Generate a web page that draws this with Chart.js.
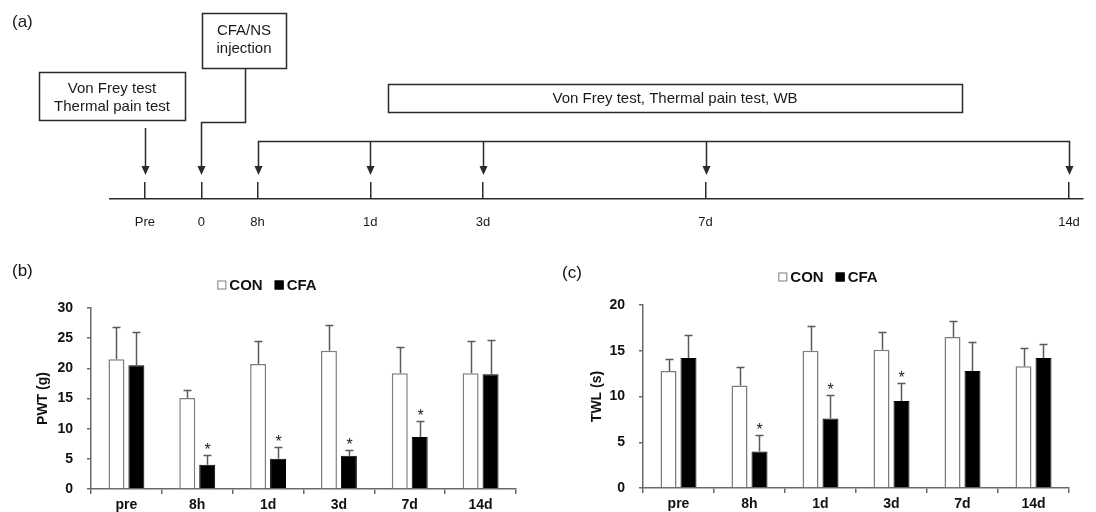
<!DOCTYPE html>
<html><head><meta charset="utf-8">
<script src="https://cdn.jsdelivr.net/npm/chart.js@4.4.1/dist/chart.umd.min.js"></script>
<style>
html,body{margin:0;padding:0;background:#fff;overflow:hidden;}
#wrap{position:relative;width:1096px;height:512px;}
canvas{position:absolute;}
</style></head><body>
<div id="wrap">
<canvas id="ca" width="1096" height="258" style="left:0;top:0"></canvas>
<canvas id="cb" width="548" height="254" style="left:0;top:258px"></canvas>
<canvas id="cc" width="548" height="254" style="left:548px;top:258px"></canvas>
</div>
<script>
// ---------- data ----------
const timelineLabels = ['Pre', '0', '8h', '1d', '3d', '7d', '14d'];
const timelineSlots = [0, 1, 2, 4, 6, 9.95, 16.4];
const categories = ['pre', '8h', '1d', '3d', '7d', '14d'];
const seriesNames = ['CON', 'CFA'];
const pwtCon = [21.5, 15.1, 20.7, 22.9, 19.2, 19.2];
const pwtConSd = [5.4, 1.3, 3.9, 4.3, 4.4, 5.4];
const pwtCfa = [20.5, 4.0, 5.0, 5.5, 8.6, 19.0];
const pwtCfaSd = [5.5, 1.6, 2.0, 0.9, 2.6, 5.7];
const pwtCfaSig = [false, true, true, true, true, false];
const twlCon = [12.8, 11.2, 15.0, 15.1, 16.5, 13.3];
const twlConSd = [1.3, 2.0, 2.7, 2.0, 1.7, 2.0];
const twlCfa = [14.2, 4.0, 7.6, 9.5, 12.8, 14.2];
const twlCfaSd = [2.5, 1.8, 2.6, 2.0, 3.2, 1.5];
const twlCfaSig = [false, true, true, true, false, false];
const pwtTicks = [0, 30, 5];
const twlTicks = [0, 20, 5];

// ---------- styles ----------
const FONT = '"Liberation Sans", Arial, Helvetica, sans-serif';
Chart.defaults.font.family = FONT;
Chart.defaults.color = '#111';
const AXIS = '#6a6a6a';
const LINE = '#2a2a2a';

// ---------- plugins ----------
const errBars = {
  id: 'errbars',
  afterDatasetsDraw(chart, args, opts) {
    const {ctx} = chart; const ys = chart.scales.y;
    ctx.save(); ctx.strokeStyle = opts.color; ctx.lineWidth = opts.width;
    chart.data.datasets.forEach((ds, i) => {
      chart.getDatasetMeta(i).data.forEach((bar, j) => {
        const top = Math.round(ys.getPixelForValue(ds.data[j] + ds.errors[j])) + 0.5;
        const x = Math.round(bar.x) + 0.5;
        ctx.beginPath();
        ctx.moveTo(x, bar.y); ctx.lineTo(x, top);
        ctx.moveTo(x - opts.cap, top); ctx.lineTo(x + opts.cap, top);
        ctx.stroke();
        if (ds.sig && ds.sig[j]) {
          ctx.fillStyle = '#1a1a1a'; ctx.font = '16px ' + FONT;
          ctx.textAlign = 'center'; ctx.textBaseline = 'alphabetic';
          ctx.fillText('*', x, top + opts.starOffset);
        }
      });
    });
    ctx.restore();
  }
};
const boxLegend = {
  id: 'boxlegend',
  afterDraw(chart, args, opts) {
    const {ctx} = chart;
    ctx.save();
    ctx.font = 'bold 15px ' + FONT; ctx.textBaseline = 'middle'; ctx.textAlign = 'left';
    const items = chart.data.datasets.map(ds => ({ds, w: opts.box + opts.gap + ctx.measureText(ds.label).width}));
    const total = items.reduce((s, it) => s + it.w, 0) + opts.spacing * (items.length - 1);
    let x = opts.cx - total / 2;
    items.forEach(it => {
      const b = opts.box;
      ctx.fillStyle = it.ds.backgroundColor;
      ctx.fillRect(x, opts.cy - b / 2, b, b);
      ctx.strokeStyle = it.ds.borderColor; ctx.lineWidth = 1;
      ctx.strokeRect(x + 0.5, opts.cy - b / 2 + 0.5, b - 1, b - 1);
      ctx.fillStyle = '#111';
      ctx.fillText(it.ds.label, x + b + opts.gap, opts.cy + 1);
      x += it.w + opts.spacing;
    });
    ctx.restore();
  }
};
const panelLabel = {
  id: 'panellabel',
  afterDraw(chart, args, opts) {
    const {ctx} = chart;
    ctx.save(); ctx.font = '17px ' + FONT; ctx.fillStyle = '#111';
    ctx.textBaseline = 'top'; ctx.textAlign = 'left';
    ctx.fillText(opts.text, opts.x, opts.y);
    ctx.restore();
  }
};
const timelinePlugin = {
  id: 'timelineplugin',
  afterDraw(chart) {
    const {ctx} = chart; const xs = chart.scales.x;
    const px = i => Math.round(xs.getPixelForValue(timelineSlots[i])) + 0.5;
    const tip = 175;
    ctx.save();
    ctx.strokeStyle = LINE; ctx.fillStyle = LINE; ctx.lineWidth = 1.5;
    const head = x => { ctx.beginPath(); ctx.moveTo(x - 4, tip - 9); ctx.lineTo(x + 4, tip - 9); ctx.lineTo(x, tip); ctx.closePath(); ctx.fill(); };
    const seg = pts => { ctx.beginPath(); ctx.moveTo(pts[0][0], pts[0][1]); for (let k = 1; k < pts.length; k++) ctx.lineTo(pts[k][0], pts[k][1]); ctx.stroke(); };
    // box 1
    ctx.strokeRect(39.5, 72.5, 146, 48);
    seg([[px(0), 128], [px(0), tip - 8]]); head(px(0));
    // box 2
    ctx.strokeRect(202.5, 13.5, 84, 55);
    seg([[245.5, 68.5], [245.5, 122.5], [px(1), 122.5], [px(1), tip - 8]]); head(px(1));
    // bracket
    seg([[px(2), tip - 8], [px(2), 141.5], [px(6), 141.5], [px(6), tip - 8]]);
    for (let i = 2; i <= 6; i++) { if (i > 2 && i < 6) seg([[px(i), 141.5], [px(i), tip - 8]]); head(px(i)); }
    // box 3
    ctx.strokeRect(388.5, 84.5, 574, 28);
    // texts
    ctx.fillStyle = '#1a1a1a'; ctx.font = '15px ' + FONT; ctx.textAlign = 'center'; ctx.textBaseline = 'middle';
    ctx.fillText('Von Frey test', 112, 89);
    ctx.fillText('Thermal pain test', 112, 107);
    ctx.fillText('CFA/NS', 244, 31);
    ctx.fillText('injection', 244, 49);
    ctx.fillText('Von Frey test, Thermal pain test, WB', 675, 99);
    ctx.font = '17px ' + FONT; ctx.textAlign = 'left'; ctx.textBaseline = 'top';
    ctx.fillText('(a)', 12, 14);
    ctx.restore();
  }
};

// ---------- (a) timeline ----------
new Chart(document.getElementById('ca'), {
  type: 'scatter',
  data: { datasets: [{ data: timelineSlots.map(v => ({x: v, y: 0})), pointRadius: 0 }] },
  options: {
    responsive: false, animation: false, events: [],
    layout: { padding: { left: 110, right: 11, top: 182, bottom: 19 } },
    plugins: { legend: { display: false }, tooltip: { enabled: false } },
    scales: {
      x: {
        type: 'linear', min: (110 - 145) / 56.5, max: (1085 - 145) / 56.5,
        afterBuildTicks: s => { s.ticks = timelineSlots.map(v => ({value: v})); },
        afterFit: s => { s.height = 40; },
        ticks: { autoSkip: false, maxRotation: 0, padding: 16, color: '#1a1a1a', font: { size: 13 },
                 callback: (v, i) => timelineLabels[i] },
        grid: { display: true, drawOnChartArea: true, drawTicks: false, color: LINE, lineWidth: 1.5 },
        border: { display: true, color: LINE, width: 1.5 }
      },
      y: { display: false, min: -1, max: 1 }
    }
  },
  plugins: [timelinePlugin]
});

// ---------- bar charts ----------
function barChart(id, con, conSd, cfa, cfaSd, sig, ticks, title, cfg) {
  return new Chart(document.getElementById(id), {
    type: 'bar',
    data: {
      labels: categories,
      datasets: [
        { label: seriesNames[0], data: con, errors: conSd, backgroundColor: '#ffffff', borderColor: '#7d7d7d', borderWidth: 1.5,
          barPercentage: 0.8, categoryPercentage: 0.563 },
        { label: seriesNames[1], data: cfa, errors: cfaSd, sig: sig, backgroundColor: '#000000', borderColor: '#000000', borderWidth: 1,
          barPercentage: 0.8, categoryPercentage: 0.563 }
      ]
    },
    options: {
      responsive: false, animation: false, events: [],
      layout: { padding: cfg.padding },
      plugins: {
        legend: { display: false }, tooltip: { enabled: false },
        errbars: { color: '#5a5a5a', width: 1.5, cap: 4, starOffset: -1 },
        boxlegend: { cx: cfg.legend[0], cy: cfg.legend[1], box: 9, gap: 3, spacing: 12 },
        panellabel: { text: cfg.label, x: cfg.labelPos[0], y: cfg.labelPos[1] }
      },
      scales: {
        x: {
          afterFit: s => { s.height = cfg.xh; },
          ticks: { padding: 3, color: '#111', font: { size: 14, weight: 'bold' } },
          grid: { offset: true, drawOnChartArea: false, drawTicks: true, tickLength: 5, color: AXIS, lineWidth: 1.5 },
          border: { display: true, color: AXIS, width: 1.5 }
        },
        y: {
          min: ticks[0], max: ticks[1],
          afterFit: s => { s.width = cfg.yw; },
          ticks: { stepSize: ticks[2], padding: 14, color: '#111', font: { size: 14, weight: 'bold' } },
          grid: { drawOnChartArea: false, drawTicks: true, tickLength: 4, color: AXIS, lineWidth: 1.5 },
          border: { display: true, color: AXIS, width: 1.5 },
          title: { display: true, text: title, color: '#111', font: { size: 14, weight: 'bold' }, padding: { top: cfg.titlePad, bottom: 0 } }
        }
      }
    },
    plugins: [errBars, boxLegend, panelLabel]
  });
}

barChart('cb', pwtCon, pwtConSd, pwtCfa, pwtCfaSd, pwtCfaSig, pwtTicks, 'PWT (g)', {
  padding: { left: 18, right: 32, top: 50, bottom: 0 }, xh: 23, yw: 73, titlePad: 16.6,
  legend: [267, 27], label: '(b)', labelPos: [12, 5]
});
barChart('cc', twlCon, twlConSd, twlCfa, twlCfaSd, twlCfaSig, twlTicks, 'TWL (s)', {
  padding: { left: 40, right: 27, top: 47, bottom: 0 }, xh: 24, yw: 55, titlePad: 0.6,
  legend: [280, 19], label: '(c)', labelPos: [14, 7]
});
</script>
</body></html>
